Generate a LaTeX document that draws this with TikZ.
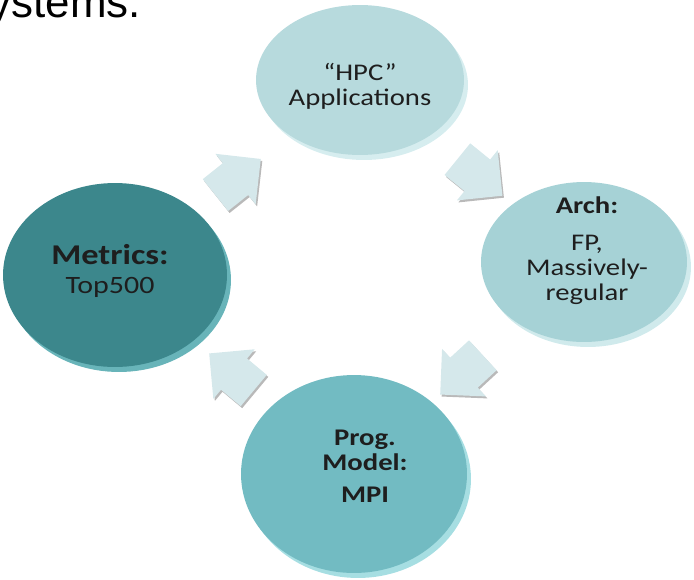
\documentclass[tikz,border=0pt]{standalone}
\usepackage{fontspec}
\setmainfont{Carlito}
\newfontfamily\headfont{Liberation Sans}
\usetikzlibrary{shapes.geometric,shapes.arrows,shadows}

\definecolor{hpcface}{HTML}{B7DADD}
\definecolor{hpcrim}{HTML}{D6EDEF}
\definecolor{archface}{HTML}{A6D2D6}
\definecolor{archrim}{HTML}{D0EAEC}
\definecolor{progface}{HTML}{72BBC2}
\definecolor{progrim}{HTML}{A6DEE2}
\definecolor{metface}{HTML}{3C878C}
\definecolor{metrim}{HTML}{68B4B9}
\definecolor{arrowfill}{HTML}{D5E8EB}
\definecolor{ink}{HTML}{1E1E1E}

\tikzset{
  disc/.style={ellipse, inner sep=0pt, fill=#1},
  rim/.style={drop shadow={fill=#1, opacity=1, shadow xshift=0.8mm, shadow yshift=-1mm}},
  lbl/.style={align=center, inner sep=0pt, text=ink, xscale=1.2,
    font=\fontsize{13.6}{14.4}\selectfont},
  flow/.style={single arrow, single arrow head extend=2.4mm, inner xsep=0pt,
    inner ysep=4mm, minimum height=11.6mm, fill=arrowfill,
    drop shadow={fill=gray!55, opacity=1, shadow xshift=0.3mm, shadow yshift=-0.4mm},
    sloped, allow upside down}
}

\begin{document}
\begin{tikzpicture}[x=0.02cm, y=-0.02cm]
\useasboundingbox (0,0) rectangle (694,579);

% slide title, cut by the top edge
\node[anchor=base west, inner sep=0pt, font=\headfont\fontsize{25}{30}\selectfont] (title) at (-40,17) {Systems.};

% the four discs
\node[disc=hpcface, rim=hpcrim, minimum width=41.6mm, minimum height=30mm] (hpc) at (360,80) {};
\node[disc=archface, rim=archrim, minimum width=41.2mm, minimum height=32mm] (arch) at (584,262) {};
\node[disc=progface, rim=progrim, minimum width=45.2mm, minimum height=39.6mm] (prog) at (354,474) {};
\node[disc=metface, rim=metrim, minimum width=44.8mm, minimum height=36.8mm] (metrics) at (115,275) {};

% texts on the discs
\node[lbl] (hpc-t) at (360,86) {“HPC”\\Applications};
\node[lbl] (arch-t) at (587,251) {\textbf{Arch:}\\[6.5pt]FP,\\Massively-\\regular};
\node[lbl] (prog-t) at (365,466) {\textbf{Prog.}\\\textbf{Model:}\\[3.6pt]\textbf{MPI}};
\node[lbl, font=\fontsize{14.2}{16.4}\selectfont] (metrics-t) at (110,271)
  {{\fontsize{16.3}{16.4}\selectfont\bfseries Metrics:}\\Top500};

% block arrows round the cycle
\path (metrics.center) -- node[flow, pos=0.47] (a1) {} (hpc.center);
\path (hpc.center) -- node[flow, pos=0.5] (a2) {} (arch.center);
\path (arch.center) -- node[flow, pos=0.5] (a3) {} (prog.center);
\path (prog.center) -- node[flow, pos=0.48] (a4) {} (metrics.center);

\end{tikzpicture}
\end{document}
